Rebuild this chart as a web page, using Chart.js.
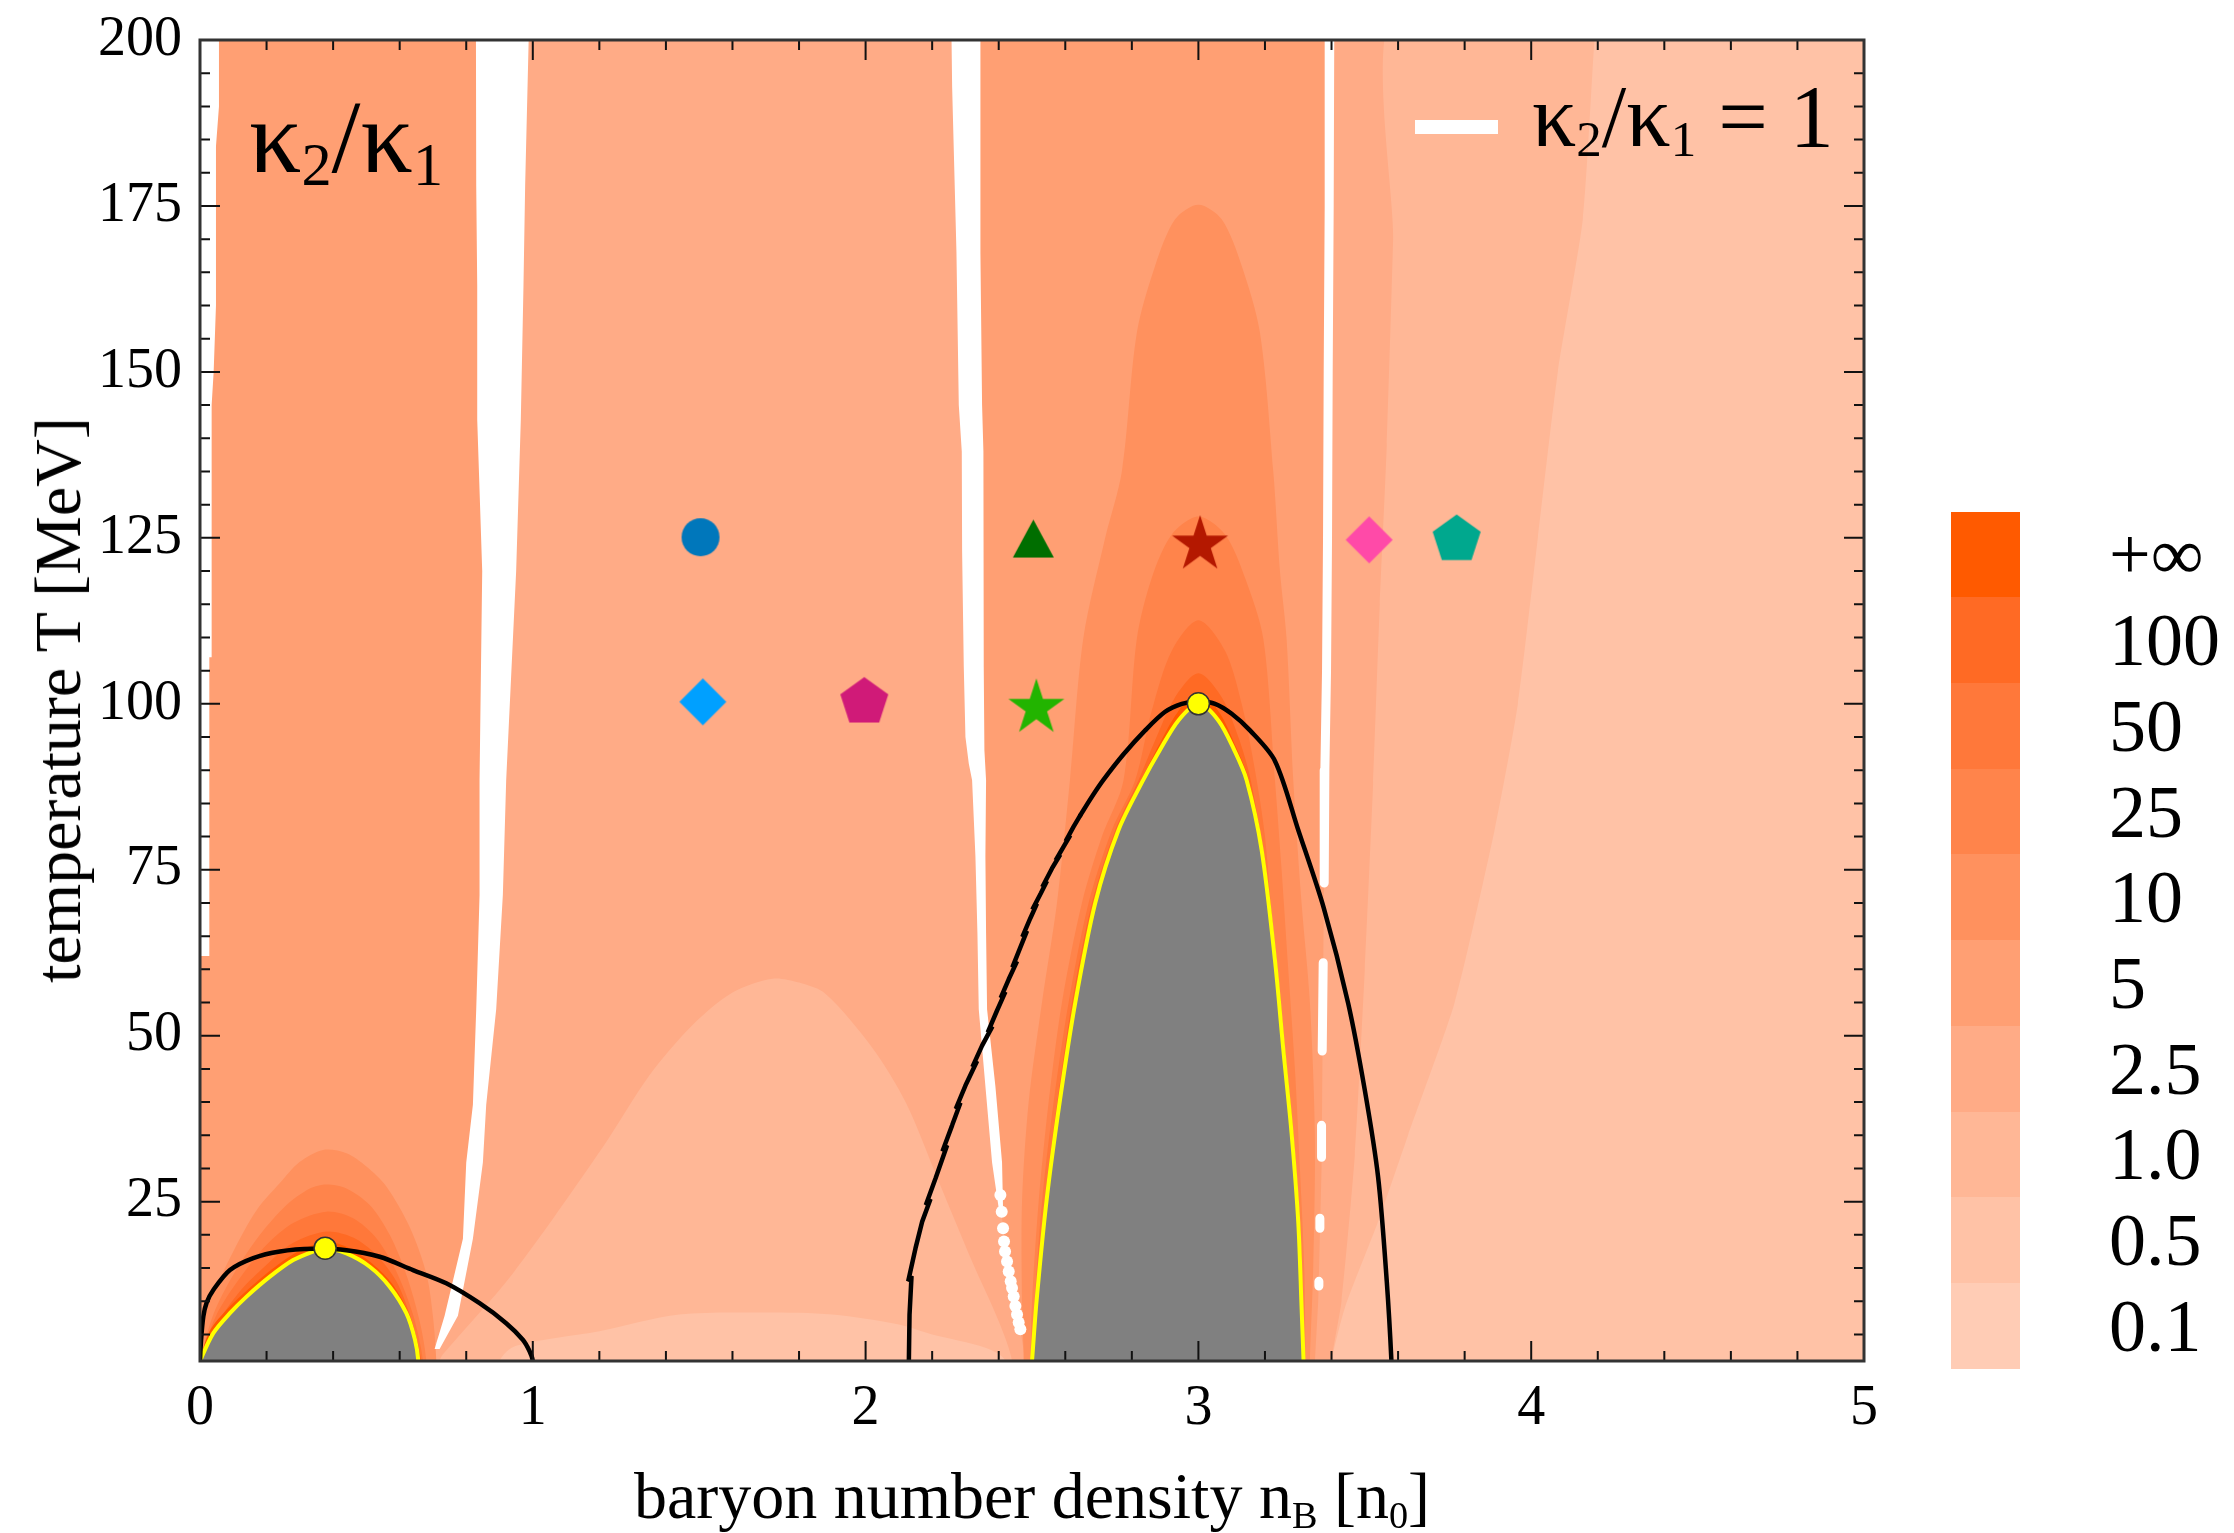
<!DOCTYPE html>
<html>
<head>
<meta charset="utf-8">
<script src="https://cdn.jsdelivr.net/npm/chart.js@4.4.1/dist/chart.umd.min.js"></script>
<style>
html,body{margin:0;padding:0;background:#fff;}
#wrap{position:relative;width:2234px;height:1533px;overflow:hidden;font-family:"Liberation Serif","Times New Roman",serif;color:#000;}
#c{position:absolute;left:0;top:0;}
.t{position:absolute;white-space:nowrap;line-height:1;}
.sb{font-size:0.58em;position:relative;}
.cb{position:absolute;}
</style>
</head>
<body>
<div id="wrap">
<canvas id="c" width="2234" height="1533"></canvas>
<div class="t" id="xt" style="font-size:66px;left:1032px;top:1463px;transform:translateX(-50%);">baryon number density n<span class="sb" style="top:0.25em">B</span> [n<span class="sb" style="top:0.25em">0</span>]</div>
<div class="t" id="yt" style="font-size:66px;left:58px;top:700px;transform:translate(-50%,-50%) rotate(-90deg);">temperature T [MeV]</div>
<div class="t" id="kl" style="font-size:104px;left:249px;top:85px;">κ<span class="sb" style="top:0.21em">2</span>/κ<span class="sb" style="top:0.21em">1</span></div>
<div class="cb" style="left:1415px;top:120px;width:83px;height:14px;background:#fff;"></div>
<div class="t" id="lg" style="font-size:88px;left:1532px;top:73px;">κ<span class="sb" style="top:0.19em">2</span>/κ<span class="sb" style="top:0.19em">1</span> = 1</div>
<div id="cbar"></div>
</div>
<script>
// ---------------- data ----------------
const nTicks = [0, 1, 2, 3, 4, 5];
const tTicks = [25, 50, 75, 100, 125, 150, 175, 200];
const levelLabels = ['+∞', '100', '50', '25', '10', '5', '2.5', '1.0', '0.5', '0.1'];

// contour regions, [n_B, T]
const regionBase = [[-0.1,-5],[-0.1,205],[5.1,205],[5.1,-5]];
const regionMid25 = [[0.69,-5],[0.70,3],[0.72,5],[0.755,8],[0.79,13],[0.805,19.4],[0.825,30.9],[0.84,39.6],[0.86,54],[0.875,71],[0.88,88.5],[0.90,120],[0.90,143],[0.90,163],[0.905,178],[0.91,205],[2.30,205],[2.30,193],[2.31,168],[2.315,145],[2.32,123],[2.325,105.6],[2.33,93],[2.34,88.5],[2.345,77],[2.348,65.5],[2.352,54],[2.375,42.4],[2.395,30.9],[2.405,25],[2.42,17.8],[2.44,12.8],[2.465,5.8],[2.48,1],[2.48,-5]];
const regionMid1 = [[0.70,-5],[0.72,1],[0.73,2],[0.94,14.2],[1.21,33.2],[1.35,44],[1.48,51.6],[1.6,56.5],[1.72,58.6],[1.8,58],[1.88,56.3],[2.02,48.2],[2.12,40],[2.22,28],[2.32,16],[2.40,7],[2.44,1],[2.44,-5]];
const regionMid05 = [[0.88,-5],[0.9,1],[0.95,3.3],[1.2,5.5],[1.44,8],[1.7,8.3],[1.9,8],[2.1,6.5],[2.2,5],[2.36,3],[2.42,1],[2.42,-5]];
const regionRight25 = [[3.35,-5],[3.35,1],[3.36,10],[3.37,30],[3.375,60],[3.38,90],[3.39,140],[3.395,205],[5.1,205],[5.1,-5]];
const regionRight1 = [[3.40,-5],[3.40,1],[3.43,10],[3.47,32],[3.50,60],[3.525,88],[3.545,115],[3.566,139],[3.585,170],[3.60,205],[5.1,205],[5.1,-5]];
const regionRight05 = [[3.39,-5],[3.40,1],[3.44,9],[3.54,22],[3.63,35],[3.77,55],[3.89,81],[3.96,100],[4.02,125],[4.08,150],[4.155,173],[4.19,200],[4.20,205],[5.1,205],[5.1,-5]];

const dome10L = [[-0.05,-5],[-0.02,1],[0.0,5],[0.03,10],[0.1,17.5],[0.17,23.7],[0.24,27.8],[0.3,31],[0.37,32.8],[0.44,32.3],[0.5,30.3],[0.56,27.3],[0.63,21.2],[0.68,14.2],[0.70,7.7],[0.71,1],[0.71,-5]];
const dome25L = [[-0.02,-5],[0.0,1],[0.04,8],[0.1,14],[0.18,20],[0.26,24.5],[0.33,27],[0.38,27.6],[0.44,27],[0.51,24.5],[0.57,20],[0.62,14],[0.66,7],[0.68,1],[0.68,-5]];
const dome50L = [[-0.02,-5],[0.0,1],[0.05,8],[0.12,13.5],[0.2,18.5],[0.28,21.8],[0.38,23.5],[0.46,22.5],[0.53,19.5],[0.59,14.5],[0.64,8],[0.67,1],[0.67,-5]];
const dome100L = [[-0.02,-5],[0.0,1],[0.05,6.5],[0.12,11.5],[0.2,15.5],[0.28,18.8],[0.38,20.5],[0.46,19.6],[0.53,17],[0.59,13],[0.63,8],[0.665,1],[0.665,-5]];
const domeInfL = [[-0.02,-5],[0.0,1],[0.03,5.6],[0.085,9],[0.14,11.6],[0.21,14.6],[0.28,17.1],[0.34,18.5],[0.38,19],[0.44,18.2],[0.51,16],[0.575,12.8],[0.625,8.5],[0.652,4.2],[0.662,1],[0.662,-5]];

const dome10R = [[2.47,-5],[2.475,1],[2.47,10],[2.47,25],[2.49,40],[2.53,55],[2.575,70],[2.614,88.5],[2.654,109.8],[2.72,125],[2.77,135],[2.815,155.9],[2.87,166],[2.93,173],[3.0,175.2],[3.07,173],[3.13,166],[3.185,155.9],[3.225,135],[3.245,120],[3.265,109.8],[3.285,88.5],[3.31,70],[3.335,55],[3.35,35],[3.345,15],[3.335,1],[3.335,-5]];
const dome25R = [[2.49,-5],[2.495,1],[2.50,10],[2.52,25],[2.55,40],[2.59,55],[2.65,70],[2.71,80],[2.775,88.5],[2.815,109.8],[2.86,119],[2.92,125.5],[3.0,128.2],[3.08,125.5],[3.14,119],[3.195,109.8],[3.23,88.5],[3.25,75],[3.27,60],[3.29,45],[3.305,30],[3.318,15],[3.322,1],[3.322,-5]];
const dome50R = [[2.495,-5],[2.498,1],[2.508,10],[2.53,25],[2.565,40],[2.61,55],[2.67,70],[2.74,81],[2.81,88.5],[2.86,99],[2.92,108],[3.0,112.6],[3.08,108],[3.13,100],[3.17,90],[3.2,80],[3.225,65],[3.25,50],[3.275,35],[3.295,20],[3.31,8],[3.318,1],[3.318,-5]];
const dome100R = [[2.497,-5],[2.499,1],[2.511,10],[2.538,25],[2.576,40],[2.62,55],[2.68,70],[2.75,81],[2.82,88.5],[2.87,94.5],[2.93,101],[3.0,104.6],[3.07,101],[3.12,95],[3.155,89],[3.19,79],[3.22,64],[3.245,50],[3.27,36],[3.29,22],[3.305,10],[3.317,1],[3.317,-5]];
const domeInfR = [[2.499,-5],[2.5,1],[2.513,10],[2.541,25],[2.58,40],[2.625,55],[2.685,70],[2.755,81],[2.828,88.5],[2.878,93.5],[2.937,98.7],[3.0,101.8],[3.063,98.7],[3.113,93.5],[3.15,88.8],[3.195,78],[3.235,61.4],[3.26,48],[3.285,35.3],[3.305,22],[3.314,9.1],[3.318,1],[3.318,-5]];

// kappa2/kappa1 = 1 contours (white)
const whiteLeft = [[-0.05,62],[0.028,62],[0.028,107],[0.035,107],[0.035,145],[0.041,150],[0.048,160],[0.048,184],[0.057,190],[0.057,205],[-0.05,205]];
const whiteBand2 = [[0.705,2.8],[0.735,7.8],[0.79,19.4],[0.80,30.9],[0.82,39.6],[0.83,54],[0.84,71.2],[0.84,88.5],[0.848,120],[0.833,142.8],[0.833,163],[0.83,178],[0.829,205],[0.99,205],[0.977,178],[0.972,163],[0.964,142.8],[0.95,120],[0.92,88.5],[0.91,71.2],[0.89,54],[0.86,39.6],[0.85,30.9],[0.82,19.4],[0.775,7.8],[0.72,2.8]];
const whiteBand3 = [[2.40,24],[2.38,30.9],[2.36,42.4],[2.34,54],[2.336,65.5],[2.33,77],[2.32,88.5],[2.31,91],[2.30,95],[2.295,105.6],[2.29,123],[2.289,138],[2.28,145],[2.273,168],[2.26,193],[2.257,205],[2.345,205],[2.345,168],[2.35,145],[2.354,138],[2.355,123],[2.355,105.6],[2.357,93],[2.362,88.5],[2.36,77],[2.362,65.5],[2.365,54],[2.39,42.4],[2.41,30.9],[2.413,24]];
const whiteDots3 = [[2.405,26],[2.409,23.5],[2.413,21],[2.416,19],[2.419,17.5],[2.425,16],[2.43,14.5],[2.436,13],[2.44,12],[2.445,10.7],[2.45,9.3],[2.455,8],[2.46,6.8],[2.465,5.8]];
const whiteLine4 = [[3.395,205],[3.393,175],[3.39,150],[3.388,125],[3.385,105],[3.38,90],[3.378,73],null,[3.375,61],[3.372,47.7],null,[3.37,36.5],[3.37,31.7],null,[3.365,22.5],[3.365,21],null,[3.362,13],[3.362,12.3]];

// spinodal (gray, yellow edge) and binodal (black)
const spinodalL = [[-0.05,-5],[0,1],[0.04,5.2],[0.09,8.2],[0.14,10.7],[0.21,13.7],[0.28,16.2],[0.34,17.5],[0.376,18],[0.44,17.2],[0.51,15.2],[0.57,12.2],[0.62,8.2],[0.646,4.2],[0.656,1],[0.66,-5]];
const spinodalR = [[2.49,-5],[2.50,1],[2.514,10.2],[2.544,25.3],[2.584,40.3],[2.63,55],[2.69,70],[2.76,81],[2.834,88.5],[2.884,93],[2.94,97.5],[3.0,100],[3.06,97.5],[3.108,93],[3.145,88.5],[3.19,78],[3.23,61.4],[3.255,48],[3.28,35.3],[3.30,22],[3.31,9.1],[3.316,1],[3.32,-5]];
const binodalL = [[0,-2],[0,1],[0.003,4],[0.01,7.7],[0.02,9.8],[0.04,11.7],[0.09,14.7],[0.16,16.5],[0.24,17.5],[0.34,17.9],[0.44,17.7],[0.54,16.7],[0.64,14.7],[0.74,12.7],[0.84,9.7],[0.92,6.7],[0.97,4.2],[0.99,2.5],[1.0,1],[1.0,-2]];
const binodalRLow = [[2.13,-2],[2.13,1],[2.132,8],[2.138,13.8],[2.128,13.0],[2.15,18],[2.17,22],[2.195,25.4],[2.181,24.5],[2.21,28.5],[2.245,33.5],[2.231,32.6],[2.26,36.5],[2.285,39.9],[2.271,39.0],[2.30,42.5],[2.335,46.2],[2.321,45.3],[2.35,48.5],[2.381,51.4],[2.367,50.5],[2.395,53.8],[2.42,56.6],[2.406,55.7],[2.43,58.5],[2.455,61.2],[2.441,60.3],[2.465,63.3],[2.485,65.8],[2.471,64.9],[2.495,67.7],[2.515,69.9],[2.501,69.0],[2.527,71.5],[2.545,73.3],[2.531,72.4],[2.56,75.2],[2.585,77.3],[2.571,76.4],[2.595,78.5],[2.615,80.2],[2.601,79.3],[2.625,81.5],[2.645,83.2]];
const binodalRTop = [[2.645,83.2],[2.68,86],[2.714,88.5],[2.775,92.4],[2.84,96],[2.9,98.8],[2.95,100],[3.0,100.4],[3.05,100],[3.1,98.5],[3.155,96],[3.23,91.4],[3.30,81],[3.377,69.2],[3.45,54.9],[3.50,41.8],[3.54,28.7],[3.566,13],[3.58,1],[3.58,-2]];

// markers
const markerN = [1.504, 2.504, 3.005, 3.513, 3.776, 1.511, 1.996, 2.513];
const markerT = [125.1, 124.9, 124.4, 124.7, 125.1, 100.3, 100.6, 99.8];
const criticalN = [0.376, 3.0];
const criticalT = [18, 100];

// ---------------- styles ----------------
const levelColors = ['#FF5A00','#FF6A24','#FF783A','#FF844B','#FF915E','#FF9F73','#FFAB86','#FFB796','#FFC2A6','#FFCCB5'];
const [cInf, c100, c50, c25, c10, c5, c2_5, c1, c0_5, c0_1] = levelColors;
const markerShapes = ['circle','triangle','star','diamond','pentagon','diamond','pentagon','star'];
const markerColors = ['#0077BB','#006E00','#B41800','#FF4AA8','#00A88E','#00A0FF','#D01A78','#22B400'];

function shapeCanvas(kind, color) {
  const dims = {circle:[38,38], diamond:[47,47], triangle:[41,38], pentagon:[48,45], star:[56,53]};
  const [w, h] = dims[kind];
  const cv = document.createElement('canvas');
  cv.width = w + 2; cv.height = h + 2;
  const g = cv.getContext('2d');
  const cx = cv.width / 2, cy = cv.height / 2;
  g.fillStyle = color;
  g.beginPath();
  if (kind === 'circle') {
    g.arc(cx, cy, w / 2, 0, Math.PI * 2);
  } else if (kind === 'diamond') {
    g.moveTo(cx, cy - h / 2); g.lineTo(cx + w / 2, cy); g.lineTo(cx, cy + h / 2); g.lineTo(cx - w / 2, cy);
  } else if (kind === 'triangle') {
    g.moveTo(cx, cy - h / 2); g.lineTo(cx + w / 2, cy + h / 2); g.lineTo(cx - w / 2, cy + h / 2);
  } else {
    const R = w / (2 * Math.sin(72 * Math.PI / 180));
    const c0 = cy + R * (1 - Math.cos(36 * Math.PI / 180)) / 2;
    const star = kind === 'star';
    const nPts = star ? 10 : 5;
    for (let k = 0; k < nPts; k++) {
      const ang = -Math.PI / 2 + k * 2 * Math.PI / nPts;
      const r = star && (k % 2 === 1) ? R * 0.382 : R;
      const px = cx + r * Math.cos(ang), py = c0 + r * Math.sin(ang);
      if (k === 0) g.moveTo(px, py); else g.lineTo(px, py);
    }
  }
  g.closePath();
  g.fill();
  return cv;
}

function pts(a) { return a.map(p => p ? {x: p[0], y: p[1]} : {x: null, y: null}); }

const datasets = [];
function area(data, color, opt) {
  datasets.push(Object.assign({data: pts(data), showLine: true, fill: 'shape', backgroundColor: color,
    borderColor: 'rgba(0,0,0,0)', borderWidth: 0, pointRadius: 0, tension: 0, spanGaps: false}, opt || {}));
}
function curve(data, color, width, opt) {
  datasets.push(Object.assign({data: pts(data), showLine: true, fill: false, borderColor: color,
    borderWidth: width, pointRadius: 0, tension: 0.3, spanGaps: false, borderCapStyle: 'round', borderJoinStyle: 'round'}, opt || {}));
}

area(regionBase, c5);
area(regionMid25, c2_5);
area(regionMid1, c1, {tension: 0.3});
area(regionMid05, c0_5, {tension: 0.3});
area(regionRight25, c2_5);
area(regionRight1, c1, {tension: 0.2});
area(regionRight05, c0_5, {tension: 0.2});
area(dome10L, c10, {tension: 0.3});
area(dome25L, c25, {tension: 0.3});
area(dome50L, c50, {tension: 0.3});
area(dome100L, c100, {tension: 0.3});
area(domeInfL, cInf, {tension: 0.3});
area(dome10R, c10, {tension: 0.3});
area(dome25R, c25, {tension: 0.3});
area(dome50R, c50, {tension: 0.3});
area(dome100R, c100, {tension: 0.3});
area(domeInfR, cInf, {tension: 0.3});
area(whiteLeft, '#FFFFFF');
area(whiteBand2, '#FFFFFF');
area(whiteBand3, '#FFFFFF');
datasets.push({data: pts(whiteDots3), showLine: false, pointRadius: 6, pointBackgroundColor: '#FFFFFF', pointBorderWidth: 0, pointStyle: 'circle'});
curve(whiteLine4, '#FFFFFF', 9, {tension: 0});
area(spinodalL, '#808080', {borderColor: '#FFFF00', borderWidth: 4, tension: 0.3});
area(spinodalR, '#808080', {borderColor: '#FFFF00', borderWidth: 4, tension: 0.3});
curve(binodalL, '#000000', 4.5);
curve(binodalRLow, '#000000', 4.5, {tension: 0, borderJoinStyle: 'bevel'});
curve(binodalRTop, '#000000', 4.5);
datasets.push({data: markerN.map((n, i) => ({x: n, y: markerT[i]})), showLine: false, pointRadius: 10,
  pointStyle: markerShapes.map((s, i) => shapeCanvas(s, markerColors[i]))});
datasets.push({data: criticalN.map((n, i) => ({x: n, y: criticalT[i]})), showLine: false, pointRadius: 11,
  pointStyle: 'circle', pointBackgroundColor: '#FFFF00', pointBorderColor: '#333333', pointBorderWidth: 1.5});
datasets.forEach((d, i) => { d.order = -i; });

const frameTicks = {
  id: 'frameTicks',
  afterDatasetsDraw(chart) {
    const {ctx, chartArea: a} = chart;
    const xs = chart.scales.x, ys = chart.scales.y;
    ctx.save();
    ctx.strokeStyle = '#111';
    ctx.lineWidth = 2;
    ctx.beginPath();
    for (let k = 0; k <= 25; k++) {
      const px = xs.getPixelForValue(k * 0.2);
      const len = (k % 5 === 0) ? 20 : 10;
      ctx.moveTo(px, a.bottom); ctx.lineTo(px, a.bottom - len);
      ctx.moveTo(px, a.top); ctx.lineTo(px, a.top + len);
    }
    for (let v = 5; v <= 200; v += 5) {
      const py = ys.getPixelForValue(v);
      const len = (v % 25 === 0) ? 20 : 10;
      ctx.moveTo(a.left, py); ctx.lineTo(a.left + len, py);
      ctx.moveTo(a.right, py); ctx.lineTo(a.right - len, py);
    }
    ctx.stroke();
    ctx.lineWidth = 3;
    ctx.strokeStyle = '#333';
    ctx.strokeRect(a.left, a.top, a.right - a.left, a.bottom - a.top);
    ctx.restore();
  }
};

const tickFont = {family: '"Liberation Serif", "Times New Roman", serif', size: 56};
new Chart(document.getElementById('c'), {
  type: 'scatter',
  data: {datasets},
  options: {
    responsive: false, animation: false, devicePixelRatio: 1, events: [],
    layout: {padding: {left: 0, right: 370, top: 40, bottom: 0}},
    elements: {line: {capBezierPoints: false}},
    plugins: {legend: {display: false}, tooltip: {enabled: false}},
    scales: {
      x: {type: 'linear', min: 0, max: 5,
        grid: {display: false, drawTicks: false}, border: {display: false},
        ticks: {font: tickFont, color: '#000', padding: 15, maxRotation: 0, autoSkip: false},
        afterBuildTicks: s => { s.ticks = nTicks.map(v => ({value: v})); },
        afterFit: s => { s.height = 172; s.paddingLeft = 0; s.paddingRight = 0; }},
      y: {type: 'linear', min: 1, max: 200,
        grid: {display: false, drawTicks: false}, border: {display: false},
        ticks: {font: tickFont, color: '#000', padding: 18, autoSkip: false},
        afterBuildTicks: s => { s.ticks = tTicks.map(v => ({value: v})); },
        afterFit: s => { s.width = 200; s.paddingTop = 0; s.paddingBottom = 0; }}
    }
  },
  plugins: [frameTicks]
});

// colour bar
const cbar = document.getElementById('cbar');
const cbTop = 511.6, cbH = 85.7;
levelLabels.forEach((lab, i) => {
  const b = document.createElement('div');
  b.className = 'cb';
  b.style.cssText = `left:1951px;top:${cbTop + i * cbH}px;width:69px;height:${cbH + 0.5}px;background:${levelColors[i]};`;
  cbar.appendChild(b);
  const t = document.createElement('div');
  t.className = 't';
  t.style.cssText = `font-size:74px;left:2109px;top:${cbTop + (i + 0.5) * cbH - 37}px;`;
  t.textContent = lab;
  cbar.appendChild(t);
});
</script>
</body>
</html>
